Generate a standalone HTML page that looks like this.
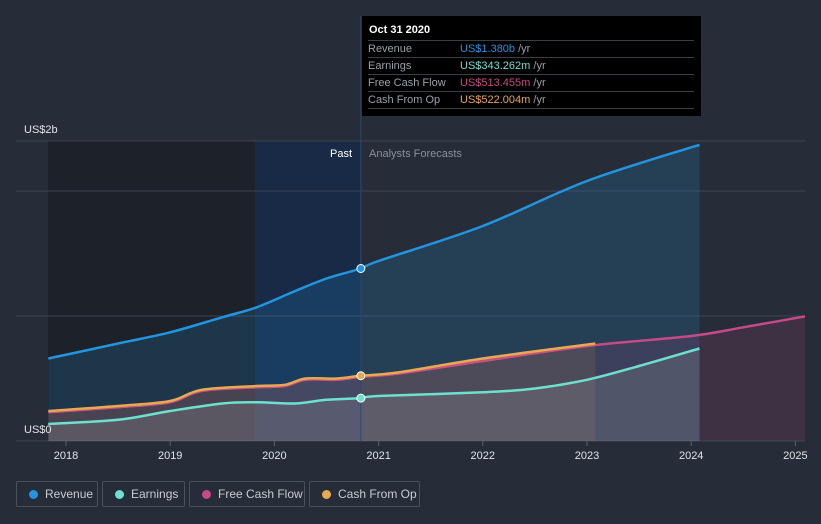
<!DOCTYPE html>
<html><head><meta charset="utf-8"><style>
body{margin:0;background:#262d38;width:821px;height:524px;overflow:hidden;font-family:"Liberation Sans",sans-serif;}
svg{position:absolute;left:0;top:0}
.leg{position:absolute;top:481px;height:26px;border:1px solid #4a515c;border-radius:2px;box-sizing:border-box;color:#c8ccd2;font-size:12px;line-height:24px;padding-left:27px;white-space:nowrap}
.leg i{position:absolute;left:12px;top:8px;width:9px;height:9px;border-radius:50%}
#tip{position:absolute;left:362px;top:16px;width:339px;height:100px;background:#000;font-size:11px;color:#9aa0a8}
#tip .r{position:absolute;left:6px;width:326px;height:16px;border-top:1px solid #3a3f46;line-height:17px}
#tip .r b{font-weight:normal;position:absolute;left:92px}
</style></head><body>
<svg id="chart" width="821" height="524"></svg>
<div id="tip">
<div style="position:absolute;left:7px;top:8px;color:#fff;font-weight:bold;font-size:11px">Oct 31 2020</div>
<div class="r" style="top:24px">Revenue<b><span style="color:#2394df">US$1.380b</span> /yr</b></div>
<div class="r" style="top:41px">Earnings<b><span style="color:#6ee0d0">US$343.262m</span> /yr</b></div>
<div class="r" style="top:58px">Free Cash Flow<b><span style="color:#c54a86">US$513.455m</span> /yr</b></div>
<div class="r" style="top:75px;border-bottom:1px solid #3a3f46">Cash From Op<b><span style="color:#e8a951">US$522.004m</span> /yr</b></div>
</div>
<div class="leg" style="left:16px;width:82px;padding-left:28px"><i style="background:#2394df"></i>Revenue</div>
<div class="leg" style="left:102px;width:83px;padding-left:28px"><i style="background:#6ee0d0"></i>Earnings</div>
<div class="leg" style="left:189px;width:116px;padding-left:28px"><i style="background:#c54a86"></i>Free Cash Flow</div>
<div class="leg" style="left:309px;width:111px;padding-left:28px"><i style="background:#e8a951"></i>Cash From Op</div>
<script>
const revT=[2017.83,2018.5,2019,2019.5,2019.83,2020.2,2020.5,2020.83,2021,2022,2023,2024.08];
const revV=[0.66,0.78,0.87,0.99,1.07,1.2,1.3,1.38,1.44,1.72,2.08,2.37];
const earnT=[2017.83,2018.5,2019,2019.5,2019.83,2020.2,2020.5,2020.83,2021,2022,2022.5,2023,2023.5,2024.08];
const earnV=[0.136,0.17,0.24,0.30,0.31,0.30,0.33,0.343,0.36,0.39,0.42,0.49,0.6,0.74];
const fcfT=[2017.83,2018.5,2019,2019.3,2019.83,2020.1,2020.3,2020.6,2020.83,2021.2,2022,2023,2024,2024.5,2025.25];
const fcfV=[0.23,0.27,0.31,0.40,0.43,0.44,0.49,0.49,0.513,0.54,0.64,0.76,0.84,0.91,1.02];
const cfoT=[2017.83,2018.5,2019,2019.3,2019.83,2020.1,2020.3,2020.6,2020.83,2021.2,2022,2023.08];
const cfoV=[0.24,0.28,0.32,0.41,0.44,0.45,0.50,0.50,0.522,0.55,0.66,0.78];
const yearTicks=[2018,2019,2020,2021,2022,2023,2024,2025];
const X=t=>66+(t-2018)*104.2, Y=v=>441-v*125;
const NS="http://www.w3.org/2000/svg", svg=document.getElementById('chart');
function el(tag,a,p){const e=document.createElementNS(NS,tag);for(const k in a)e.setAttribute(k,a[k]);(p||svg).appendChild(e);return e;}
const defs=el('defs',{});
const cp=el('clipPath',{id:'clip'},defs);el('rect',{x:0,y:0,width:805,height:524},cp);
const nowX=X(2020.83);
let r=el('rect',{x:48,y:141,width:207,height:300,fill:'#1d2129'});


r=el('rect',{x:255,y:141,width:nowX-255,height:300,fill:'#182a45'});


[141,191,316,441].forEach(y=>{const l=el('line',{x1:16,x2:805,y1:y,y2:y,stroke:'#3d4450','stroke-width':1});

});
function path(T,V){const P=T.map((t,i)=>[X(t),Y(V[i])]);let d='M'+P[0][0].toFixed(1)+','+P[0][1].toFixed(1);
 for(let i=0;i<P.length-1;i++){const p0=P[Math.max(0,i-1)],p1=P[i],p2=P[i+1],p3=P[Math.min(P.length-1,i+2)];const k=1/6;
 d+='C'+(p1[0]+(p2[0]-p0[0])*k).toFixed(1)+','+(p1[1]+(p2[1]-p0[1])*k).toFixed(1)+' '+(p2[0]-(p3[0]-p1[0])*k).toFixed(1)+','+(p2[1]-(p3[1]-p1[1])*k).toFixed(1)+' '+p2[0].toFixed(1)+','+p2[1].toFixed(1);}
 return d;}
const g=el('g',{'clip-path':'url(#clip)'});
function series(T,V,col,fill,name){
 const a=el('path',{d:path(T,V)+'L'+X(T[T.length-1])+',441L'+X(T[0])+',441Z',fill:fill},g);
 
 
 const l=el('path',{d:path(T,V),fill:'none',stroke:col,'stroke-width':2.5,'stroke-linejoin':'round'},g);
 
 
}
series(revT,revV,'#2394df','rgba(35,148,223,0.18)','revenue');
series(fcfT,fcfV,'#c54a86','rgba(197,74,134,0.15)','free-cash-flow');
series(cfoT,cfoV,'#e8a951','rgba(232,169,81,0.10)','cash-from-op');
series(earnT,earnV,'#6ee0d0','rgba(160,160,160,0.22)','earnings');
let v=el('line',{x1:nowX,x2:nowX,y1:16,y2:441,stroke:'#2a4a70','stroke-width':1});


[[revV[7],'#2394df'],[cfoV[8],'#e8a951'],[earnV[7],'#6ee0d0']].forEach(([val,c])=>{const d=el('circle',{cx:nowX,cy:Y(val),r:4,fill:c,stroke:'#fff','stroke-width':1});

});
function txt(x,y,s,c,sz,anchor,name){const t=el('text',{x:x,y:y,fill:c,'font-size':sz,'text-anchor':anchor||'start','font-family':'Liberation Sans, sans-serif'});t.textContent=s;

return t;}
txt(24,133,'US$2b','#e0e3e7',11,'start','y-label-top');
txt(24,433,'US$0','#e0e3e7',11,'start','y-label-zero');
txt(352,157,'Past','#fff',11,'end','past-label');
txt(369,157,'Analysts Forecasts','#8b9099',11,'start','forecast-label');
yearTicks.forEach(y=>{const x=X(y);const tk=el('line',{x1:x,x2:x,y1:441,y2:446,stroke:'#5a616c'});


txt(x,459,String(y),'#e0e3e7',11,'middle','x-tick-label');});
</script>
</body></html>
